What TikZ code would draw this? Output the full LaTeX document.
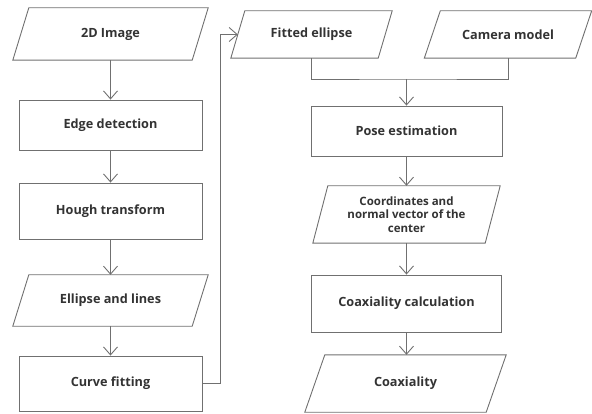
\documentclass[tikz,border=0pt]{standalone}
\usepackage{fontspec}
\setmainfont{Open Sans}
\usetikzlibrary{arrows.meta}
\definecolor{linegray}{HTML}{707070}
\definecolor{txt}{HTML}{333333}
\tikzset{
  line/.style={draw=linegray, line width=0.9pt},
  arr/.style={line, -{Straight Barb[length=8pt,width=14pt,line width=0.9pt]}},
  box/.style={line, inner sep=0pt, font=\bfseries\fontsize{12.7}{14}\selectfont, text=txt, align=center},
  pnode/.style={inner sep=0pt, font=\bfseries\fontsize{12.7}{14}\selectfont, text=txt, align=center},
}
\newcommand\paral[2]{\draw[line] ([xshift=#2pt]#1.north west) -- ([xshift=#2pt]#1.north east) -- ([xshift=-#2pt]#1.south east) -- ([xshift=-#2pt]#1.south west) -- cycle;}
\begin{document}
\begin{tikzpicture}[x=1pt,y=-1pt]
\useasboundingbox (0,0) rectangle (592,414);
% left column
\node[pnode, minimum width=179pt, minimum height=52pt] (img) at (110.5,34) {2D Image};
\paral{img}{8}
\node[box, minimum width=183pt, minimum height=50pt] (edge) at (110.5,125) {Edge detection};
\node[box, minimum width=183pt, minimum height=56pt] (hough) at (110.5,211) {Hough transform};
\node[pnode, minimum width=179pt, minimum height=51pt] (ell) at (110.5,300.5) {Ellipse and lines};
\paral{ell}{8}
\node[box, minimum width=183pt, minimum height=55pt] (curve) at (110.5,383.5) {Curve fitting};
% right column
\node[pnode, minimum width=147pt, minimum height=47pt] (fit) at (311.5,34.5) {Fitted ellipse};
\paral{fit}{7}
\node[pnode, minimum width=151pt, minimum height=47pt] (cam) at (508,34.5) {Camera model};
\paral{cam}{8}
\node[box, minimum width=191pt, minimum height=50pt] (pose) at (406.5,131) {Pose estimation};
\node[pnode, minimum width=172pt, minimum height=57pt, font=\bfseries\fontsize{11.5}{13.5}\selectfont] (coord) at (406.5,214.5) {Coordinates and\\normal vector of the\\center};
\paral{coord}{7.5}
\node[box, minimum width=190pt, minimum height=57pt] (calc) at (406.5,303.5) {Coaxiality calculation};
\node[pnode, minimum width=181pt, minimum height=57pt] (coax) at (405.5,383.5) {Coaxiality};
\paral{coax}{10}
% connectors
\draw[arr] (img.south) -- (edge.north);
\draw[arr] (edge.south) -- (hough.north);
\draw[arr] (hough.south) -- (ell.north);
\draw[arr] (ell.south) -- (curve.north);
\coordinate (bend) at (220,383.5);
\draw[arr] (curve.east) -- (bend) |- (fit.west);
\coordinate (j) at (406.5,79);
\draw[line] (fit.south) |- (j) -| (cam.south);
\draw[arr] (j) -- (pose.north);
\draw[arr] (pose.south) -- (coord.north);
\draw[arr] (coord.south) -- (calc.north);
\draw[arr] (calc.south) -- (calc.south |- coax.north);
\end{tikzpicture}
\end{document}
